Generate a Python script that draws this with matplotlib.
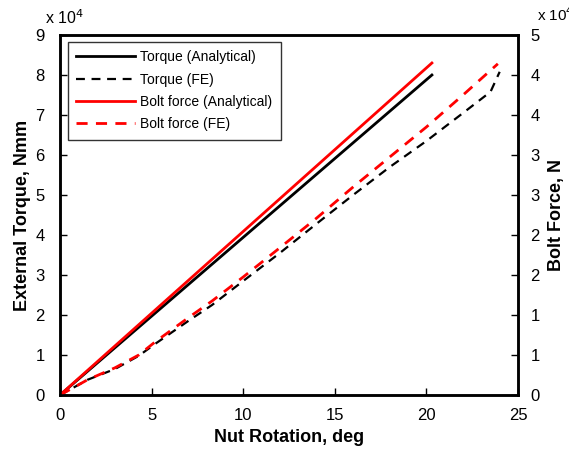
import math

import matplotlib

matplotlib.use("Agg")
import matplotlib.pyplot as plt
from matplotlib.ticker import FuncFormatter, MultipleLocator

plt.rcParams["font.family"] = ["Liberation Sans", "DejaVu Sans"]

# analytical solution (straight lines)
rot_analytical = [0.0, 20.3]
torque_analytical = [0.0, 80000.0]
bolt_analytical = [0.0, 41500.0]

# finite element results
rot_fe_torque = [0.0, 0.6, 1.5, 3.0, 4.3, 5.2, 7.0, 8.3, 10.0, 12.0, 14.0, 16.0,
                 18.0, 20.0, 22.0, 23.5, 24.0]
torque_fe = [0, 1500, 3800, 6500, 9800, 12800, 18500, 22500, 28500, 35500, 42800,
             50000, 57000, 63500, 70500, 75800, 80800]
rot_fe_bolt = [0.0, 0.6, 1.5, 3.0, 4.3, 5.2, 7.0, 8.3, 10.0, 12.0, 14.0, 16.0,
               18.0, 20.0, 22.0, 23.9]
bolt_fe = [0, 750, 1900, 3400, 5000, 6650, 9650, 11750, 14750, 18400, 22100, 26000,
           29750, 33500, 37500, 41400]

fig = plt.figure(figsize=(5.69, 4.51), dpi=100)
ax = fig.add_axes([60 / 569, 56 / 451, 458 / 569, 360 / 451])
ax2 = ax.twinx()

l1, = ax.plot(rot_analytical, torque_analytical, color="black", lw=2,
              label="Torque (Analytical)")
l2, = ax.plot(rot_fe_torque, torque_fe, color="black", lw=1.6, ls=(0, (4, 3)),
              label="Torque (FE)")
l3, = ax2.plot(rot_analytical, bolt_analytical, color="#ff0000", lw=2,
               label="Bolt force (Analytical)")
l4, = ax2.plot(rot_fe_bolt, bolt_fe, color="#ff0000", lw=2, ls=(0, (4, 3)),
               label="Bolt force (FE)")

ax.set_xlim(0, 25)
ax.set_ylim(0, 90000)
ax2.set_ylim(0, 45000)
ax.xaxis.set_major_locator(MultipleLocator(5))
ax.yaxis.set_major_locator(MultipleLocator(10000))
ax2.yaxis.set_major_locator(MultipleLocator(5000))

ax.yaxis.set_major_formatter(FuncFormatter(lambda v, p: f"{v / 1e4:.0f}"))
# Excel style rounding of the right axis labels (half up)
ax2.yaxis.set_major_formatter(FuncFormatter(lambda v, p: f"{math.floor(v / 1e4 + 0.5):d}"))

for a in (ax, ax2):
    for s in a.spines.values():
        s.set_linewidth(1.8)
    a.tick_params(direction="in", length=5, width=1, labelsize=12, pad=11)
ax.tick_params(axis="x", pad=9)
ax2.tick_params(axis="y", pad=9)

ax.set_xlabel("Nut Rotation, deg", fontsize=13, fontweight="bold")
ax.set_ylabel("External Torque, Nmm", fontsize=13, fontweight="bold")
ax2.set_ylabel("Bolt Force, N", fontsize=13, fontweight="bold")
ax.xaxis.set_label_coords(0.5, -(429 - 395) / 360)
ax.yaxis.set_label_coords((31 - 60) / 458, 0.5)
ax2.yaxis.set_label_coords((548 - 60) / 458, 0.5)

fig.text(45 / 569, 1 - 18 / 451, r"x 10$^4$", fontsize=11.5, va="center", ha="left")
fig.text(537 / 569, 1 - 15 / 451, r"x 10$^4$", fontsize=11, va="center", ha="left")

leg = ax.legend(handles=[l1, l2, l3, l4], loc="upper left",
                bbox_to_anchor=(8 / 458, 1 - 7 / 360), borderaxespad=0,
                fontsize=10, frameon=True, fancybox=False, handlelength=4.2,
                borderpad=0.6, labelspacing=0.6, handletextpad=0.4)
leg.get_frame().set_edgecolor("black")
leg.get_frame().set_linewidth(1)

fig.savefig("out.png", dpi=100)
